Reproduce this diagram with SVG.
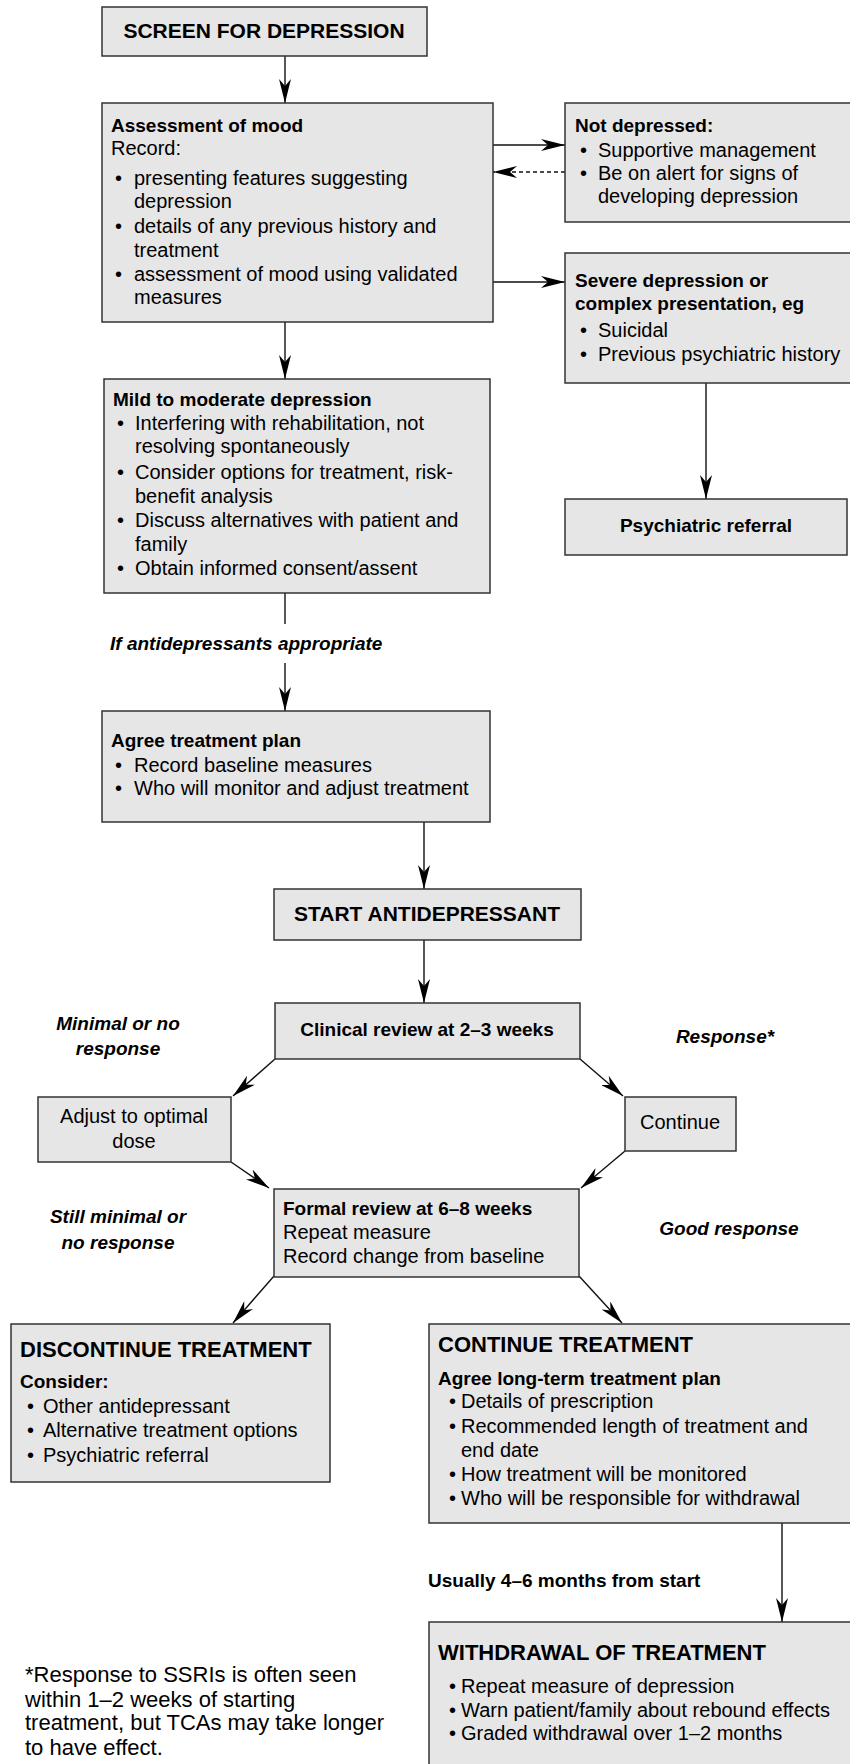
<svg xmlns="http://www.w3.org/2000/svg" width="850" height="1764" viewBox="0 0 850 1764">
<defs>
<marker id="ah" viewBox="0 0 24 12" refX="24" refY="6" markerWidth="24" markerHeight="12" markerUnits="userSpaceOnUse" orient="auto">
<path d="M0,0 L24,6 L0,12 L7,6 z" fill="#000"/>
</marker>
</defs>
<style>
.box{fill:#e6e6e6;stroke:#333;stroke-width:1.5}
text{font-family:"Liberation Sans",Arial,sans-serif;fill:#000}
.r{font-size:20px}
.b{font-size:19px;font-weight:bold}
.h{font-size:21px;font-weight:bold}
.H{font-size:22px;font-weight:bold}
.bi{font-size:19px;font-weight:bold;font-style:italic}
.fn{font-size:22px}
.c{text-anchor:middle}
.ln{stroke:#111;stroke-width:1.4;fill:none}
.ar{marker-end:url(#ah)}
.dash{stroke-dasharray:4 3}
</style>

<g id="connectors">
<line class="ln ar" x1="285" y1="56" x2="285" y2="103"/>
<line class="ln ar" x1="493" y1="145" x2="565" y2="145"/>
<line class="ln ar dash" x1="565" y1="172" x2="493" y2="172"/>
<line class="ln ar" x1="493" y1="282" x2="565" y2="282"/>
<line class="ln ar" x1="285" y1="322" x2="285" y2="379"/>
<line class="ln ar" x1="706" y1="383" x2="706" y2="499"/>
<line class="ln" x1="285" y1="593" x2="285" y2="624"/>
<line class="ln ar" x1="285" y1="663" x2="285" y2="711"/>
<line class="ln ar" x1="424" y1="822" x2="424" y2="889"/>
<line class="ln ar" x1="424" y1="940" x2="424" y2="1003"/>
<line class="ln ar" x1="275" y1="1059" x2="233" y2="1096"/>
<line class="ln ar" x1="580" y1="1059" x2="623" y2="1096"/>
<line class="ln ar" x1="231" y1="1162" x2="269" y2="1188"/>
<line class="ln ar" x1="625" y1="1151" x2="581" y2="1188"/>
<line class="ln ar" x1="274" y1="1276" x2="233" y2="1323"/>
<line class="ln ar" x1="579" y1="1276" x2="622" y2="1323"/>
<line class="ln ar" x1="782" y1="1523" x2="782" y2="1622"/>
</g>

<g id="screen">
<rect class="box" x="102" y="7" width="325" height="49"/>
<text class="h c" x="264" y="38">SCREEN FOR DEPRESSION</text>
</g>

<g id="assessment">
<rect class="box" x="102" y="103" width="391" height="219"/>
<text class="b" x="111" y="132">Assessment of mood</text>
<text class="r" x="111" y="155">Record:</text>
<text class="r" x="115" y="185">•</text>
<text class="r" x="134" y="185">presenting features suggesting</text>
<text class="r" x="134" y="208">depression</text>
<text class="r" x="115" y="233">•</text>
<text class="r" x="134" y="233">details of any previous history and</text>
<text class="r" x="134" y="257">treatment</text>
<text class="r" x="115" y="281">•</text>
<text class="r" x="134" y="281">assessment of mood using validated</text>
<text class="r" x="134" y="304">measures</text>
</g>

<g id="not-depressed">
<rect class="box" x="565" y="103" width="290" height="119"/>
<text class="b" x="575" y="132">Not depressed:</text>
<text class="r" x="580" y="157">•</text>
<text class="r" x="598" y="157">Supportive management</text>
<text class="r" x="580" y="180">•</text>
<text class="r" x="598" y="180">Be on alert for signs of</text>
<text class="r" x="598" y="203">developing depression</text>
</g>

<g id="severe">
<rect class="box" x="565" y="253" width="290" height="130"/>
<text class="b" x="575" y="287">Severe depression or</text>
<text class="b" x="575" y="310">complex presentation, eg</text>
<text class="r" x="580" y="337">•</text>
<text class="r" x="598" y="337">Suicidal</text>
<text class="r" x="580" y="361">•</text>
<text class="r" x="598" y="361">Previous psychiatric history</text>
</g>

<g id="psychiatric-referral">
<rect class="box" x="565" y="499" width="282" height="56"/>
<text class="b c" x="706" y="532">Psychiatric referral</text>
</g>

<g id="mild">
<rect class="box" x="104" y="379" width="386" height="214"/>
<text class="b" x="113" y="406">Mild to moderate depression</text>
<text class="r" x="117" y="430">•</text>
<text class="r" x="135" y="430">Interfering with rehabilitation, not</text>
<text class="r" x="135" y="453">resolving spontaneously</text>
<text class="r" x="117" y="479">•</text>
<text class="r" x="135" y="479">Consider options for treatment, risk-</text>
<text class="r" x="135" y="503">benefit analysis</text>
<text class="r" x="117" y="527">•</text>
<text class="r" x="135" y="527">Discuss alternatives with patient and</text>
<text class="r" x="135" y="551">family</text>
<text class="r" x="117" y="575">•</text>
<text class="r" x="135" y="575">Obtain informed consent/assent</text>
</g>

<g id="label-antidepressants">
<text class="bi" x="110" y="650">If antidepressants appropriate</text>
</g>

<g id="agree-plan">
<rect class="box" x="102" y="711" width="388" height="111"/>
<text class="b" x="111" y="747">Agree treatment plan</text>
<text class="r" x="115" y="772">•</text>
<text class="r" x="134" y="772">Record baseline measures</text>
<text class="r" x="115" y="795">•</text>
<text class="r" x="134" y="795">Who will monitor and adjust treatment</text>
</g>

<g id="start">
<rect class="box" x="274" y="889" width="307" height="51"/>
<text class="h c" x="427" y="921">START ANTIDEPRESSANT</text>
</g>

<g id="clinical-review">
<rect class="box" x="275" y="1003" width="305" height="56"/>
<text class="b c" x="427" y="1036">Clinical review at 2–3 weeks</text>
</g>

<g id="label-minimal">
<text class="bi c" x="118" y="1030">Minimal or no</text>
<text class="bi c" x="118" y="1055">response</text>
</g>

<g id="label-response">
<text class="bi c" x="725" y="1043">Response*</text>
</g>

<g id="adjust">
<rect class="box" x="38" y="1097" width="193" height="65"/>
<text class="r c" x="134" y="1123">Adjust to optimal</text>
<text class="r c" x="134" y="1148">dose</text>
</g>

<g id="continue">
<rect class="box" x="625" y="1097" width="111" height="54"/>
<text class="r c" x="680" y="1129">Continue</text>
</g>

<g id="formal-review">
<rect class="box" x="274" y="1189" width="305" height="88"/>
<text class="b" x="283" y="1215">Formal review at 6–8 weeks</text>
<text class="r" x="283" y="1239">Repeat measure</text>
<text class="r" x="283" y="1263">Record change from baseline</text>
</g>

<g id="label-still-minimal">
<text class="bi c" x="118" y="1223">Still minimal or</text>
<text class="bi c" x="118" y="1249">no response</text>
</g>

<g id="label-good-response">
<text class="bi c" x="729" y="1235">Good response</text>
</g>

<g id="discontinue">
<rect class="box" x="11" y="1324" width="319" height="158"/>
<text class="H" x="20" y="1357">DISCONTINUE TREATMENT</text>
<text class="b" x="20" y="1388">Consider:</text>
<text class="r" x="27" y="1413">•</text>
<text class="r" x="43" y="1413">Other antidepressant</text>
<text class="r" x="27" y="1437">•</text>
<text class="r" x="43" y="1437">Alternative treatment options</text>
<text class="r" x="27" y="1462">•</text>
<text class="r" x="43" y="1462">Psychiatric referral</text>
</g>

<g id="continue-treatment">
<rect class="box" x="429" y="1324" width="426" height="199"/>
<text class="H" x="438" y="1352">CONTINUE TREATMENT</text>
<text class="b" x="438" y="1385">Agree long-term treatment plan</text>
<text class="r" x="449" y="1408">•</text>
<text class="r" x="461" y="1408">Details of prescription</text>
<text class="r" x="449" y="1433">•</text>
<text class="r" x="461" y="1433">Recommended length of treatment and</text>
<text class="r" x="461" y="1457">end date</text>
<text class="r" x="449" y="1481">•</text>
<text class="r" x="461" y="1481">How treatment will be monitored</text>
<text class="r" x="449" y="1505">•</text>
<text class="r" x="461" y="1505">Who will be responsible for withdrawal</text>
</g>

<g id="label-usually">
<text class="b" x="428" y="1587">Usually 4–6 months from start</text>
</g>

<g id="withdrawal">
<rect class="box" x="429" y="1622" width="426" height="150"/>
<text class="H" x="438" y="1660">WITHDRAWAL OF TREATMENT</text>
<text class="r" x="449" y="1693">•</text>
<text class="r" x="461" y="1693">Repeat measure of depression</text>
<text class="r" x="449" y="1717">•</text>
<text class="r" x="461" y="1717">Warn patient/family about rebound effects</text>
<text class="r" x="449" y="1740">•</text>
<text class="r" x="461" y="1740">Graded withdrawal over 1–2 months</text>
</g>

<g id="footnote">
<text class="fn" x="25" y="1682">*Response to SSRIs is often seen</text>
<text class="fn" x="25" y="1707">within 1–2 weeks of starting</text>
<text class="fn" x="25" y="1730">treatment, but TCAs may take longer</text>
<text class="fn" x="25" y="1755">to have effect.</text>
</g>
</svg>
